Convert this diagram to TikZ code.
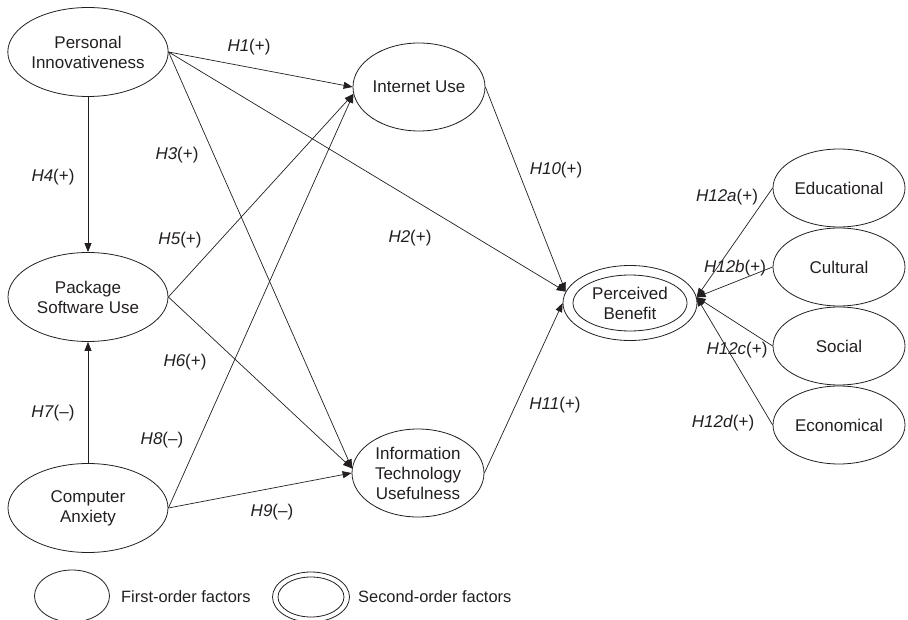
\documentclass[tikz,border=0pt]{standalone}
\usepackage{fontspec}
\setmainfont{Liberation Sans}
\usetikzlibrary{shapes.geometric,arrows.meta}
\definecolor{ink}{HTML}{231F20}
\begin{document}
\begin{tikzpicture}[x=1pt,y=-1pt,
  fac/.style={draw=ink, text=ink, ellipse, inner sep=0pt, align=center,
    font=\fontsize{17}{20}\selectfont, line width=0.8pt},
  bigfac/.style={fac, minimum width=160pt, minimum height=89pt},
  midfac/.style={fac, minimum width=132pt, minimum height=88pt},
  dimfac/.style={fac, minimum width=132pt, minimum height=78pt},
  link/.style={draw=ink, line width=0.7pt, -{Triangle[length=9pt,width=7pt]}},
  hyp/.style={text=ink, inner sep=0pt, font=\fontsize{17}{20}\selectfont},
  legtext/.style={text=ink, inner sep=0pt, anchor=west, font=\fontsize{16.4}{19}\selectfont},
]
\useasboundingbox (0,0) rectangle (908,620);

% first-order factors
\node[bigfac] (pi)  at (88,52)  {Personal\\Innovativeness};
\node[midfac] (iu)  at (419,87) {Internet Use};
\node[bigfac] (psu) at (88,297) {Package\\Software Use};
\node[bigfac] (ca)  at (88,508) {Computer\\Anxiety};
\node[midfac] (itu) at (418,473) {Information\\Technology\\Usefulness};

% second-order factor
\node[fac, minimum width=134pt, minimum height=75pt] (pb) at (630,303) {};
\node[fac, minimum width=114pt, minimum height=56pt] (pbin) at (630,303) {Perceived\\Benefit};

% dimensions
\node[dimfac] (edu) at (839,188) {Educational};
\node[dimfac] (cul) at (839,267) {Cultural};
\node[dimfac] (soc) at (839,346) {Social};
\node[dimfac] (eco) at (839,425) {Economical};

% connectors
\draw[link] (pi.east) -- (iu.west);
\draw[link] (pi.east) -- (pb.170);
\draw[link] (pi.east) -- (itu.176);
\draw[link] (pi.south) -- (psu.north);
\draw[link] (psu.east) -- (iu.186);
\draw[link] (psu.east) -- (itu.176);
\draw[link] (ca.north) -- (psu.south);
\draw[link] (ca.east) -- (iu.186);
\draw[link] (ca.east) -- (itu.west);
\draw[link] (iu.east) -- (pb.170);
\draw[link] (itu.east) -- (pb.west);
\draw[link] (edu.west) -- (pb.5);
\draw[link] (cul.west) -- (pb.5);
\draw[link] (soc.west) -- (pb.5);
\draw[link] (eco.west) -- (pb.5);

% hypothesis labels
\node[hyp] (h1)  at (249,47)  {\textit{H1}(+)};
\node[hyp] (h2)  at (410,238) {\textit{H2}(+)};
\node[hyp] (h3)  at (177,155) {\textit{H3}(+)};
\node[hyp] (h4)  at (53,177)  {\textit{H4}(+)};
\node[hyp] (h5)  at (180,240) {\textit{H5}(+)};
\node[hyp] (h6)  at (185,362) {\textit{H6}(+)};
\node[hyp] (h7)  at (53,413)  {\textit{H7}(–)};
\node[hyp] (h8)  at (162,440) {\textit{H8}(–)};
\node[hyp] (h9)  at (272,512) {\textit{H9}(–)};
\node[hyp] (h10) at (556,170) {\textit{H10}(+)};
\node[hyp] (h11) at (555,405) {\textit{H11}(+)};
\node[hyp] (h12a) at (727,197) {\textit{H12a}(+)};
\node[hyp] (h12b) at (735,268) {\textit{H12b}(+)};
\node[hyp] (h12c) at (737,350) {\textit{H12c}(+)};
\node[hyp] (h12d) at (723,423) {\textit{H12d}(+)};

% legend
\node[draw=ink, line width=0.8pt, ellipse, inner sep=0pt, minimum width=75pt, minimum height=52pt] (leg1) at (72,596) {};
\node[legtext] (leg1t) at (121,597) {First-order factors};
\node[draw=ink, line width=0.8pt, ellipse, inner sep=0pt, minimum width=77pt, minimum height=50pt] (leg2) at (311,597) {};
\node[draw=ink, line width=0.8pt, ellipse, inner sep=0pt, minimum width=66pt, minimum height=40pt] (leg2in) at (311,597) {};
\node[legtext] (leg2t) at (358,597) {Second-order factors};
\end{tikzpicture}
\end{document}
